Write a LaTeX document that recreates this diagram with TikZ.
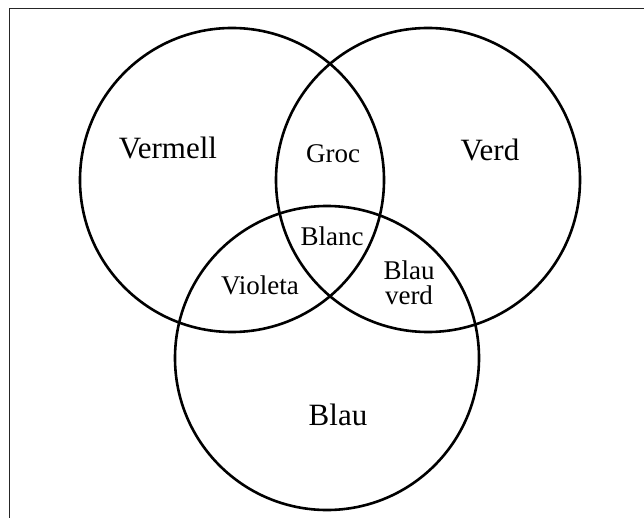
\documentclass[tikz,border=0pt]{standalone}
\usepackage{fontspec}
\setmainfont{Liberation Serif}

\begin{document}
\begin{tikzpicture}[x=1pt, y=-1pt, align=center]
      \useasboundingbox (0,0) rectangle (644,518);
      \draw[line width=1.2pt, black!85] (9.5,530) -- (9.5,8.5) -- (660,8.5);

      \node[draw, circle, line width=2.6pt, minimum size=304pt] (Verm) at (232,180) {};
      \node[draw, circle, line width=2.6pt, minimum size=304pt] (Verd) at (428,180) {};
      \node[draw, circle, line width=2.6pt, minimum size=304pt] (Blau) at (327,358) {};

      \node[anchor=base, font=\fontsize{31}{31}\selectfont] (VermL) at (168,159) {Vermell};
      \node[anchor=base, font=\fontsize{31}{31}\selectfont] (VerdL) at (490,161) {Verd};
      \node[anchor=base, font=\fontsize{31}{31}\selectfont] (BlauL) at (338,425) {Blau};
      \node[anchor=base, font=\fontsize{27}{27}\selectfont] (GrocL) at (333,163) {Groc};
      \node[anchor=base, font=\fontsize{27}{27}\selectfont] (BlancL) at (332,246) {Blanc};
      \node[anchor=base, font=\fontsize{27}{27}\selectfont] (VioL) at (260,294) {Violeta};
      \node[font=\fontsize{27}{25}\selectfont] (BVL) at (409,283) {Blau\\ verd};
    \end{tikzpicture}
\end{document}
